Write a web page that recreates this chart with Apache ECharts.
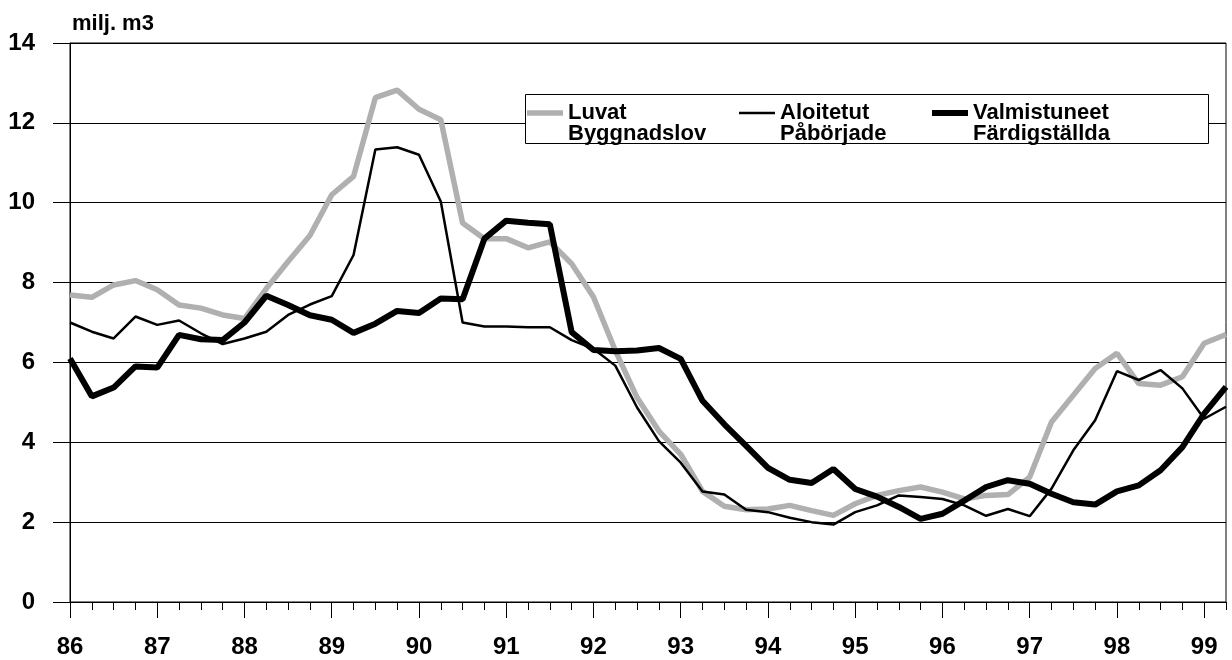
<!DOCTYPE html>
<html>
<head>
<meta charset="utf-8">
<script src="https://cdn.jsdelivr.net/npm/echarts@6/dist/echarts.min.js"></script>
<style>
  html, body { margin: 0; padding: 0; background: #fff; }
  #chart { width: 1232px; height: 660px; }
</style>
</head>
<body>
<div id="chart"></div>
<script>
// quarterly data, 86 Q1 .. 99 Q2
const years = ['86', '87', '88', '89', '90', '91', '92', '93', '94', '95', '96', '97', '98', '99'];
const quarters = [];
years.forEach((y) => {
  ['I', 'II', 'III', 'IV'].forEach((q) => quarters.push(y + ' ' + q));
});
quarters.length = 54; // ends at 99 II

const luvat = [
  7.69, 7.63, 7.94, 8.05, 7.82, 7.44, 7.36, 7.19, 7.1, 7.85, 8.53, 9.18,
  10.2, 10.66, 12.63, 12.82, 12.34, 12.08, 9.49, 9.1, 9.1, 8.87, 9.02, 8.47,
  7.64, 6.3, 5.12, 4.28, 3.7, 2.77, 2.4, 2.31, 2.33, 2.42, 2.29, 2.17,
  2.46, 2.67, 2.79, 2.88, 2.75, 2.58, 2.67, 2.69, 3.13, 4.51, 5.18, 5.85,
  6.23, 5.47, 5.43, 5.64, 6.48, 6.7
];
const aloitetut = [
  7.0, 6.77, 6.6, 7.15, 6.94, 7.05, 6.73, 6.46, 6.6, 6.77, 7.19, 7.45,
  7.66, 8.69, 11.33, 11.39, 11.2, 10.03, 7.0, 6.9, 6.9, 6.88, 6.88, 6.56,
  6.34, 5.92, 4.87, 4.03, 3.49, 2.77, 2.69, 2.31, 2.25, 2.11, 2.0, 1.94,
  2.25, 2.42, 2.67, 2.63, 2.58, 2.42, 2.16, 2.33, 2.15, 2.84, 3.8, 4.55,
  5.78, 5.56, 5.81, 5.35, 4.59, 4.89
];
const valmistuneet = [
  6.1, 5.15, 5.37, 5.9, 5.87, 6.69, 6.58, 6.56, 7.0, 7.67, 7.44, 7.18,
  7.07, 6.74, 6.97, 7.29, 7.24, 7.6, 7.58, 9.1, 9.55, 9.5, 9.46, 6.76,
  6.31, 6.28, 6.3, 6.36, 6.09, 5.04, 4.45, 3.91, 3.36, 3.06, 2.98, 3.33,
  2.83, 2.64, 2.38, 2.08, 2.21, 2.54, 2.88, 3.05, 2.96, 2.71, 2.5, 2.44,
  2.77, 2.92, 3.3, 3.88, 4.72, 5.39
];
const yTicks = [0, 2, 4, 6, 8, 10, 12, 14];

const names = ['Luvat\nByggnadslov', 'Aloitetut\nPåbörjade', 'Valmistuneet\nFärdigställda'];
const colors = ['#b0b0b0', '#000', '#000'];
const widths = [5.5, 2.5, 6];

const axisFont = {
  fontFamily: "'Liberation Sans', Arial, sans-serif",
  fontWeight: 'bold',
  fontSize: 24,
  color: '#000',
};
const legendBase = {
  orient: 'horizontal',
  padding: 0,
  icon: 'rect',
  itemWidth: 36,
  itemGap: 0,
  top: 81,
  selectedMode: false,
  z: 12,
  // leading empty line puts the first name line level with the key
  formatter: (name) => '\n' + name,
  textStyle: {
    fontFamily: "'Liberation Sans', Arial, sans-serif",
    fontWeight: 'bold',
    fontSize: 22,
    lineHeight: 21,
    color: '#000',
  },
};

const chart = echarts.init(document.getElementById('chart'), null, { renderer: 'canvas' });

chart.setOption({
  animation: false,
  backgroundColor: '#fff',
  title: {
    text: 'milj. m3',
    left: 72,
    top: 13,
    padding: 0,
    textStyle: {
      fontFamily: "'Liberation Sans', Arial, sans-serif",
      fontWeight: 'bold',
      fontSize: 22,
      color: '#000',
    },
  },
  grid: {
    left: 70,
    right: 6,
    top: 43,
    bottom: 58,
    show: true,
    borderColor: '#000',
    borderWidth: 1,
    backgroundColor: 'transparent',
  },
  graphic: [{
    type: 'rect',
    z: 10,
    shape: { x: 525.5, y: 94.5, width: 683, height: 49 },
    style: { fill: '#fff', stroke: '#000', lineWidth: 1 },
  }],
  legend: [
    Object.assign({}, legendBase, { data: [names[0]], left: 527, itemHeight: widths[0] }),
    Object.assign({}, legendBase, { data: [names[1]], left: 739, itemHeight: widths[1] }),
    Object.assign({}, legendBase, { data: [names[2]], left: 932, itemHeight: widths[2] }),
  ],
  xAxis: [
    {
      type: 'category',
      position: 'bottom',
      data: quarters,
      boundaryGap: false,
      axisLine: { show: true, lineStyle: { color: '#000', width: 1 } },
      axisTick: { show: true, interval: 3, length: 16, lineStyle: { color: '#000', width: 1 } },
      axisLabel: Object.assign({
        interval: 3,
        margin: 33,
        formatter: (v) => v.split(' ')[0],
      }, axisFont),
      splitLine: { show: false },
    },
    {
      type: 'category',
      position: 'bottom',
      data: quarters,
      boundaryGap: false,
      axisLine: { show: false },
      axisTick: { show: true, interval: 0, length: 8, lineStyle: { color: '#000', width: 1 } },
      axisLabel: { show: false },
      splitLine: { show: false },
    },
  ],
  yAxis: {
    type: 'value',
    min: yTicks[0],
    max: yTicks[yTicks.length - 1],
    interval: 2,
    axisLine: { show: true, lineStyle: { color: '#000', width: 1 } },
    axisTick: { show: true, length: 17, lineStyle: { color: '#000', width: 1 } },
    axisLabel: Object.assign({ margin: 35 }, axisFont),
    splitLine: { show: true, lineStyle: { color: '#000', width: 1 } },
  },
  series: [
    {
      name: names[0],
      type: 'line',
      data: luvat,
      symbol: 'none',
      z: 2,
      lineStyle: { color: colors[0], width: widths[0] },
      itemStyle: { color: colors[0] },
    },
    {
      name: names[1],
      type: 'line',
      data: aloitetut,
      symbol: 'none',
      z: 3,
      lineStyle: { color: colors[1], width: widths[1] },
      itemStyle: { color: colors[1] },
    },
    {
      name: names[2],
      type: 'line',
      data: valmistuneet,
      symbol: 'none',
      z: 4,
      lineStyle: { color: colors[2], width: widths[2] },
      itemStyle: { color: colors[2] },
    },
  ],
});
</script>
</body>
</html>
